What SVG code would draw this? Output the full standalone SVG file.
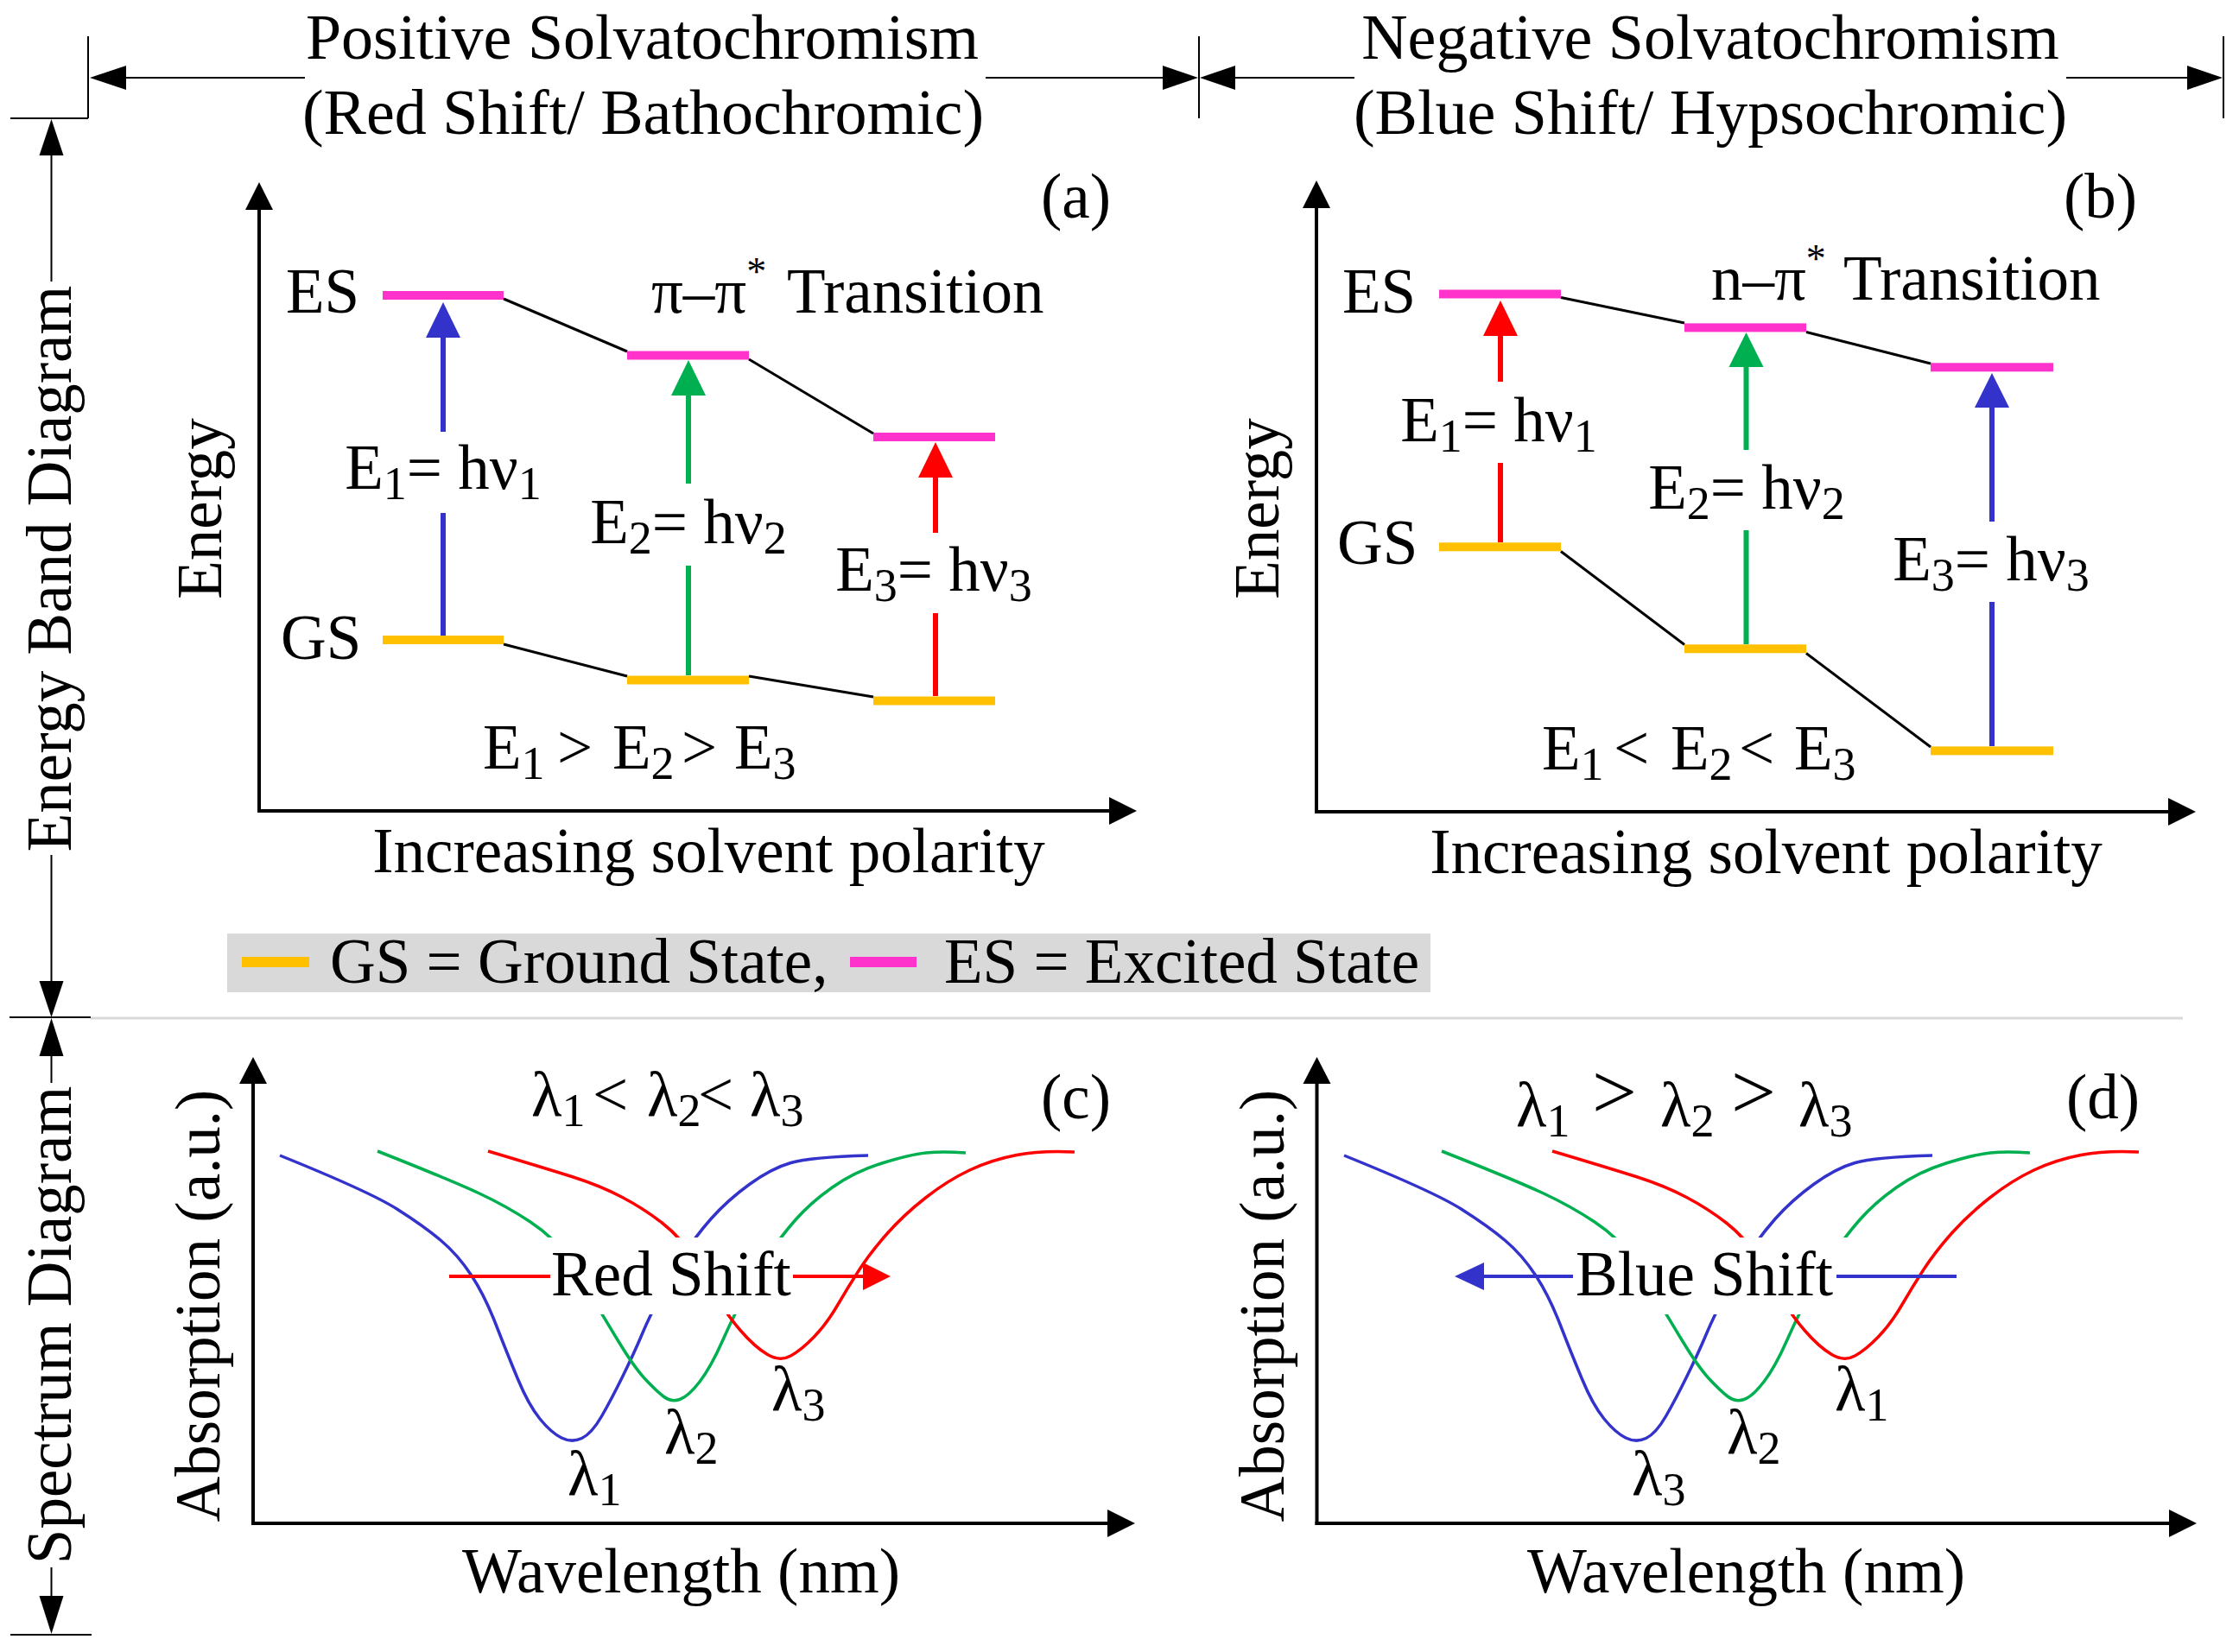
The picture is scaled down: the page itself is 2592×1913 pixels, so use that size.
<svg xmlns="http://www.w3.org/2000/svg" xmlns:xlink="http://www.w3.org/1999/xlink" width="2592" height="1913" viewBox="0 0 2592 1913">
<style>
.t{font-family:"Liberation Serif","Times New Roman",serif;font-size:73px;fill:#000}
.h{font-size:74px}
.sb{font-size:54px}
.ln{stroke:#000;stroke-width:2;fill:none}
.ax{stroke:#000;stroke-width:4;fill:none}
.cn{stroke:#000;stroke-width:3;fill:none}
.cv{stroke-width:3.5;fill:none}
.es{fill:#FF33CC}
.gs{fill:#FFC000}
.ar{stroke-width:6;fill:none}
</style>
<defs>
<g id="spec">
<path class="cv" stroke="#3333CC" d="M324,1338 Q428,1380 459.5,1400 T510.5,1436.5 T545.5,1476.5 T574,1533.5 T599.5,1597 T625,1643 T650,1665 T673.5,1665.5 T696.5,1640 T721,1593.5 T743.5,1544.5 T765.5,1499 T791,1454.5 T823,1411.5 T867.5,1371.5 T915.5,1346.5 T1005,1338"/>
<path class="cv" stroke="#00B050" d="M437,1333 Q523,1367 555,1382 T614,1415 T655,1454 T683,1498.5 T715.5,1552.5 T746.5,1596.5 T768,1617 T787,1620.5 T810,1600 T836.5,1552.5 T863,1498.5 T889.5,1454 T920.5,1413 T963.5,1375 T1021,1347 T1072,1335 T1118,1335"/>
<path class="cv" stroke="#FF0000" d="M565,1333 Q632,1353 663.5,1363 T720.5,1386.5 T767,1416.5 T801.5,1455 T828,1499.5 T857.5,1541 T888.5,1568.5 T915.5,1570 T942.5,1548 T969.5,1511.5 T995,1470 T1027,1428.5 T1071.5,1387 T1122.5,1355 T1177,1337.5 T1244,1334"/>
<rect x="595" y="1433" width="325" height="89" fill="#FFFFFF"/>
</g>
</defs>
<rect width="2592" height="1913" fill="#FFFFFF"/>

<g id="header">
<line class="ln" x1="102" y1="42" x2="102" y2="137"/>
<line class="ln" x1="12" y1="137" x2="102" y2="137"/>
<line class="ln" x1="1388" y1="42" x2="1388" y2="137"/>
<line class="ln" x1="2574" y1="42" x2="2574" y2="137"/>
<line class="ln" x1="144" y1="90" x2="353" y2="90"/>
<polygon points="104,90 146,76 146,104"/>
<line class="ln" x1="1141" y1="90" x2="1348" y2="90"/>
<polygon points="1387,90 1346,76 1346,104"/>
<polygon points="1389,90 1430,76 1430,104"/>
<line class="ln" x1="1428" y1="90" x2="1568" y2="90"/>
<line class="ln" x1="2392" y1="90" x2="2534" y2="90"/>
<polygon points="2573,90 2532,76 2532,104"/>
<text class="t h" x="743.5" y="68" text-anchor="middle">Positive Solvatochromism</text>
<text class="t h" x="744.5" y="155" text-anchor="middle">(Red Shift/ Bathochromic)</text>
<text class="t h" x="1980" y="68" text-anchor="middle">Negative Solvatochromism</text>
<text class="t h" x="1980" y="155" text-anchor="middle">(Blue Shift/ Hypsochromic)</text>
</g>

<g id="side-dimension">
<polygon points="59.5,138 45.5,180 73.5,180"/>
<line class="ln" x1="59.5" y1="178" x2="59.5" y2="326"/>
<line class="ln" x1="59.5" y1="990" x2="59.5" y2="1138"/>
<polygon points="59.5,1178 45.5,1136 73.5,1136"/>
<line x1="105" y1="1179" x2="2527" y2="1179" stroke="#D9D9D9" stroke-width="3"/>
<line class="ln" x1="11" y1="1178" x2="105" y2="1178"/>
<polygon points="59.5,1179 45.5,1223 73.5,1223"/>
<line class="ln" x1="59.5" y1="1221" x2="59.5" y2="1254"/>
<line class="ln" x1="59.5" y1="1815" x2="59.5" y2="1850"/>
<polygon points="59.5,1892 45.5,1848 73.5,1848"/>
<line class="ln" x1="12" y1="1893" x2="106" y2="1893"/>
<text class="t" transform="translate(82,658.5) rotate(-90)" text-anchor="middle">Energy Band Diagram</text>
<text class="t" transform="translate(82,1534.5) rotate(-90)" text-anchor="middle">Spectrum Diagram</text>
</g>

<g id="panel-a">
<line class="ax" x1="300" y1="941" x2="300" y2="240"/>
<polygon points="300,211 284,243 316,243"/>
<line class="ax" x1="298" y1="939" x2="1287" y2="939"/>
<polygon points="1316,939 1284,923 1284,955"/>
<text class="t" x="1205" y="252">(a)</text>
<text class="t" x="331" y="362">ES</text>
<text class="t" x="325" y="763">GS</text>
<text class="t" x="754" y="362">π–π<tspan font-size="46" dy="-32">*</tspan><tspan x="911" dy="32">Transition</tspan></text>
<rect class="es" x="443" y="337" width="140" height="10"/>
<rect class="es" x="726" y="406.5" width="141" height="10"/>
<rect class="es" x="1011" y="501" width="141" height="10"/>
<rect class="gs" x="443" y="736" width="140" height="10"/>
<rect class="gs" x="726" y="782.5" width="141" height="10"/>
<rect class="gs" x="1011" y="806.5" width="141" height="10"/>
<line class="ar" stroke="#3333CC" x1="513" y1="736" x2="513" y2="594"/>
<line class="ar" stroke="#3333CC" x1="513" y1="500" x2="513" y2="388"/>
<polygon fill="#3333CC" points="513,350 493,391 533,391"/>
<line class="ar" stroke="#00B050" x1="797" y1="782" x2="797" y2="655"/>
<line class="ar" stroke="#00B050" x1="797" y1="560" x2="797" y2="456"/>
<polygon fill="#00B050" points="797,417 777,458 817,458"/>
<line class="ar" stroke="#FF0000" x1="1083" y1="806" x2="1083" y2="710"/>
<line class="ar" stroke="#FF0000" x1="1083" y1="617" x2="1083" y2="551"/>
<polygon fill="#FF0000" points="1083,512 1063,553 1103,553"/>
<text class="t" x="513" y="566" text-anchor="middle">E<tspan class="sb" dy="12">1</tspan><tspan dy="-12">= hν</tspan><tspan class="sb" dy="12">1</tspan></text>
<text class="t" x="797" y="629" text-anchor="middle">E<tspan class="sb" dy="12">2</tspan><tspan dy="-12">= hν</tspan><tspan class="sb" dy="12">2</tspan></text>
<text class="t" x="1081" y="684" text-anchor="middle">E<tspan class="sb" dy="12">3</tspan><tspan dy="-12">= hν</tspan><tspan class="sb" dy="12">3</tspan></text>
<text class="t" y="890"><tspan x="559">E</tspan><tspan class="sb" y="902">1</tspan><tspan x="645" y="890">&gt;</tspan><tspan x="709">E</tspan><tspan class="sb" y="902">2</tspan><tspan x="789" y="890">&gt;</tspan><tspan x="850">E</tspan><tspan class="sb" y="902">3</tspan></text>
<text class="t" transform="translate(256,589) rotate(-90)" text-anchor="middle">Energy</text>
<text class="t" x="820.5" y="1010" text-anchor="middle">Increasing solvent polarity</text>
</g>

<g id="panel-b">
<line class="ax" x1="1524" y1="942" x2="1524" y2="238"/>
<polygon points="1524,209 1508,241 1540,241"/>
<line class="ax" x1="1522" y1="940" x2="2513" y2="940"/>
<polygon points="2542,940 2510,924 2510,956"/>
<text class="t" x="2389" y="252">(b)</text>
<text class="t" x="1554" y="362">ES</text>
<text class="t" x="1548" y="653">GS</text>
<text class="t" x="1981" y="347">n–π<tspan font-size="46" dy="-32">*</tspan><tspan x="2134" dy="32">Transition</tspan></text>
<rect class="es" x="1666" y="335.5" width="141" height="10"/>
<rect class="es" x="1950" y="374.4" width="141" height="10"/>
<rect class="es" x="2235" y="420.3" width="142" height="10"/>
<rect class="gs" x="1666" y="628.3" width="141" height="10"/>
<rect class="gs" x="1950" y="746.3" width="141" height="10"/>
<rect class="gs" x="2235" y="864.4" width="142" height="10"/>
<line class="ar" stroke="#FF0000" x1="1737" y1="628" x2="1737" y2="536"/>
<line class="ar" stroke="#FF0000" x1="1737" y1="442" x2="1737" y2="387"/>
<polygon fill="#FF0000" points="1737,348 1717,389 1757,389"/>
<line class="ar" stroke="#00B050" x1="2021.5" y1="746" x2="2021.5" y2="614"/>
<line class="ar" stroke="#00B050" x1="2021.5" y1="521" x2="2021.5" y2="422"/>
<polygon fill="#00B050" points="2021.5,385 2001.5,425 2041.5,425"/>
<line class="ar" stroke="#3333CC" x1="2306" y1="864" x2="2306" y2="697"/>
<line class="ar" stroke="#3333CC" x1="2306" y1="604" x2="2306" y2="470"/>
<polygon fill="#3333CC" points="2306,432 2286,472 2326,472"/>
<text class="t" x="1735" y="511" text-anchor="middle">E<tspan class="sb" dy="12">1</tspan><tspan dy="-12">= hν</tspan><tspan class="sb" dy="12">1</tspan></text>
<text class="t" x="2022" y="589" text-anchor="middle">E<tspan class="sb" dy="12">2</tspan><tspan dy="-12">= hν</tspan><tspan class="sb" dy="12">2</tspan></text>
<text class="t" x="2305" y="672" text-anchor="middle">E<tspan class="sb" dy="12">3</tspan><tspan dy="-12">= hν</tspan><tspan class="sb" dy="12">3</tspan></text>
<text class="t" y="890.5"><tspan x="1785">E</tspan><tspan class="sb" y="902.5">1</tspan><tspan x="1868" y="890.5">&lt;</tspan><tspan x="1934">E</tspan><tspan class="sb" y="902.5">2</tspan><tspan x="2013" y="890.5">&lt;</tspan><tspan x="2077">E</tspan><tspan class="sb" y="902.5">3</tspan></text>
<text class="t" transform="translate(1480,589) rotate(-90)" text-anchor="middle">Energy</text>
<text class="t" x="2044.5" y="1011" text-anchor="middle">Increasing solvent polarity</text>
</g>

<g id="connectors">
<line class="cn" x1="583" y1="346" x2="726" y2="407"/>
<line class="cn" x1="867" y1="416" x2="1011" y2="502"/>
<line class="cn" x1="583" y1="746" x2="726" y2="783"/>
<line class="cn" x1="867" y1="783" x2="1011" y2="807"/>
<line class="cn" x1="1807" y1="344.5" x2="1950" y2="374"/>
<line class="cn" x1="2091" y1="384.5" x2="2235" y2="421"/>
<line class="cn" x1="1807" y1="638.5" x2="1950" y2="746.5"/>
<line class="cn" x1="2091" y1="756.5" x2="2235" y2="865"/>
</g>

<g id="legend">
<rect x="263" y="1081" width="1393" height="68" fill="#D9D9D9"/>
<rect class="gs" x="280" y="1108" width="78" height="12"/>
<rect class="es" x="984" y="1108" width="77" height="12"/>
<text class="t" x="382" y="1138">GS = Ground State,</text>
<text class="t" x="1093" y="1138">ES = Excited State</text>
</g>

<g id="panel-c">
<use xlink:href="#spec"/>
<line stroke="#FF0000" stroke-width="4" x1="520" y1="1478" x2="637" y2="1478"/>
<line stroke="#FF0000" stroke-width="4" x1="918" y1="1478" x2="1001" y2="1478"/>
<polygon fill="#FF0000" points="1031,1478 999,1462 999,1494"/>
<text class="t" x="777" y="1500" text-anchor="middle">Red Shift</text>
<line class="ax" x1="293" y1="1766" x2="293" y2="1252"/>
<polygon points="293,1224 277,1255 309,1255"/>
<line class="ax" x1="291" y1="1764" x2="1285" y2="1764"/>
<polygon points="1314,1764 1282,1748 1282,1780"/>
<text class="t" x="1205" y="1295">(c)</text>
<text class="t" y="1292"><tspan x="615">λ</tspan><tspan class="sb" y="1304">1</tspan><tspan x="686" y="1292">&lt;</tspan><tspan x="749">λ</tspan><tspan class="sb" y="1304">2</tspan><tspan x="808" y="1292">&lt;</tspan><tspan x="868">λ</tspan><tspan class="sb" y="1304">3</tspan></text>
<text class="t" x="657" y="1731">λ<tspan class="sb" dy="12">1</tspan></text>
<text class="t" x="769" y="1683">λ<tspan class="sb" dy="12">2</tspan></text>
<text class="t" x="893" y="1633">λ<tspan class="sb" dy="12">3</tspan></text>
<text class="t" transform="translate(254,1512) rotate(-90)" text-anchor="middle">Absorption (a.u.)</text>
<text class="t" x="788.5" y="1844" text-anchor="middle">Wavelength (nm)</text>
</g>

<g id="panel-d">
<use xlink:href="#spec" x="1232"/>
<line stroke="#3333CC" stroke-width="4" x1="1715" y1="1478" x2="1821" y2="1478"/>
<line stroke="#3333CC" stroke-width="4" x1="2126" y1="1478" x2="2265" y2="1478"/>
<polygon fill="#3333CC" points="1684,1478 1718,1462 1718,1494"/>
<text class="t" x="1973" y="1500" text-anchor="middle">Blue Shift</text>
<line class="ax" x1="1524.5" y1="1766" x2="1524.5" y2="1252"/>
<polygon points="1524.5,1224 1508.5,1255 1540.5,1255"/>
<line class="ax" x1="1522.5" y1="1764" x2="2514" y2="1764"/>
<polygon points="2543,1764 2511,1748 2511,1780"/>
<text class="t" x="2392" y="1295">(d)</text>
<text class="t" y="1304"><tspan x="1755">λ</tspan><tspan class="sb" y="1316">1</tspan><tspan x="1843" y="1294.5" font-size="92">&gt;</tspan><tspan x="1922" y="1304">λ</tspan><tspan class="sb" y="1316">2</tspan><tspan x="2004" y="1294.5" font-size="92">&gt;</tspan><tspan x="2082" y="1304">λ</tspan><tspan class="sb" y="1316">3</tspan></text>
<text class="t" x="1889" y="1731">λ<tspan class="sb" dy="12">3</tspan></text>
<text class="t" x="1999" y="1683">λ<tspan class="sb" dy="12">2</tspan></text>
<text class="t" x="2124" y="1633">λ<tspan class="sb" dy="12">1</tspan></text>
<text class="t" transform="translate(1486,1512) rotate(-90)" text-anchor="middle">Absorption (a.u.)</text>
<text class="t" x="2021.5" y="1844" text-anchor="middle">Wavelength (nm)</text>
</g>
</svg>
